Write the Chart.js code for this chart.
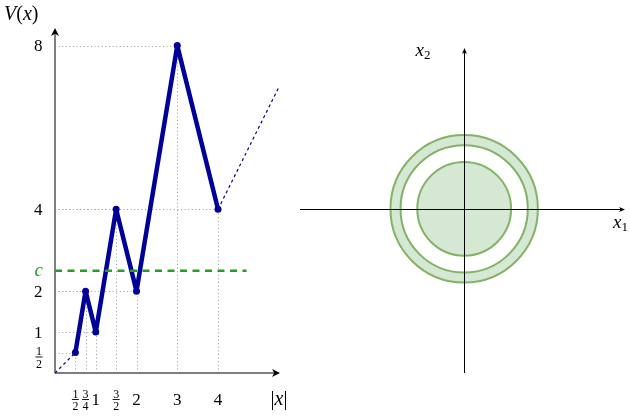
<!DOCTYPE html>
<html>
<head>
<meta charset="utf-8">
<script src="https://cdn.jsdelivr.net/npm/chart.js@4.4.0/dist/chart.umd.min.js"></script>
<style>
  body { margin: 0; background: #fff; font-family: "Liberation Serif", serif; }
  #wrap { position: relative; width: 630px; height: 417px; }
  canvas { position: absolute; top: 0; }
  .probe { position: absolute; left: -999px; top: 0; }
</style>
</head>
<body>
<div id="wrap">
  <canvas id="v_chart" width="300" height="417" style="left:0"></canvas>
  <canvas id="circle_chart" width="330" height="417" style="left:300px"></canvas>
</div>
<span class="probe" style="font-family:'Liberation Serif'">1</span>
<span class="probe" style="font-family:'Liberation Serif';font-style:italic">x</span>
<script>
'use strict';

// V(x) の折れ線
const xs = [0.5, 0.75, 1, 1.5, 2, 3, 4];
const vs = [0.5, 2, 1, 4, 2, 8, 4];
const headX = [0, 0.5];
const headV = [0, 0.5];
const tailX = [4, 5.5];
const tailV = [4, 7];
const cLevel = 2.5;
const cRange = [0, 4.7];
const xTicks = [0.5, 0.75, 1, 1.5, 2, 3, 4];
const xTickLabels = ['1/2', '3/4', '1', '3/2', '2', '3', '4'];
const yTicks = [0.5, 1, 2, 4, 8];
const yTickLabels = ['1/2', '1', '2', '4', '8'];

// 右の図：円の半径
const radii = [1.4, 1.9, 2.2];

const SERIF = '"Liberation Serif", "DejaVu Serif", serif';
const pts = (a, b) => a.map((v, i) => ({ x: v, y: b[i] }));

function arrowHead(ctx, x, y, angle, len, half) {
  ctx.save();
  ctx.translate(x, y);
  ctx.rotate(angle);
  ctx.beginPath();
  ctx.moveTo(0, 0);
  ctx.lineTo(-len, -half);
  ctx.lineTo(-len * 0.72, 0);
  ctx.lineTo(-len, half);
  ctx.closePath();
  ctx.fill();
  ctx.restore();
}

// 分数なら縦に積んで描く
function drawTick(ctx, text, x, base, align) {
  if (text.indexOf('/') < 0) {
    ctx.font = '17px ' + SERIF;
    ctx.textAlign = align;
    ctx.fillText(text, x, base);
    return;
  }
  const [n, d] = text.split('/');
  ctx.font = '12px ' + SERIF;
  const w = 7;
  const cx = align === 'right' ? x - w / 2 : x;
  const bar = base - 5;
  ctx.textAlign = 'center';
  ctx.fillText(n, cx, bar - 2);
  ctx.fillText(d, cx, bar + 10.5);
  ctx.fillRect(cx - w / 2, bar - 0.5, w, 0.9);
}

// 斜体と立体を混ぜて並べる
function drawMath(ctx, parts, x, base, align) {
  let total = 0;
  parts.forEach(p => { ctx.font = p[1]; total += ctx.measureText(p[0]).width; });
  let cur = align === 'center' ? x - total / 2 : x;
  ctx.textAlign = 'left';
  parts.forEach(p => {
    ctx.font = p[1];
    ctx.fillText(p[0], cur, base + (p[2] || 0));
    cur += ctx.measureText(p[0]).width;
  });
}

const vPlugin = {
  id: 'vAxes',
  beforeDatasetsDraw(chart) {
    const { ctx, chartArea: area, scales: { x, y } } = chart;
    const x0 = x.getPixelForValue(0), y0 = y.getPixelForValue(0);
    ctx.save();
    // 点線の補助線
    ctx.strokeStyle = '#9a9a9a';
    ctx.lineWidth = 1;
    ctx.setLineDash([1, 2.6]);
    xs.forEach((xv, i) => {
      const px = Math.round(x.getPixelForValue(xv)) + 0.5;
      const py = Math.round(y.getPixelForValue(vs[i])) + 0.5;
      ctx.beginPath();
      ctx.moveTo(x0, py); ctx.lineTo(px, py);
      ctx.moveTo(px, y0); ctx.lineTo(px, py);
      ctx.stroke();
    });
    ctx.setLineDash([]);
    // 軸
    ctx.strokeStyle = '#7f7f7f';
    ctx.lineWidth = 2;
    ctx.beginPath();
    ctx.moveTo(x0, y0); ctx.lineTo(x0, area.top + 4);
    ctx.moveTo(x0, y0); ctx.lineTo(area.right - 4, y0);
    ctx.stroke();
    ctx.fillStyle = '#000';
    arrowHead(ctx, x0, area.top, -Math.PI / 2, 8, 4);
    arrowHead(ctx, area.right, y0, 0, 8, 4);
    ctx.restore();
  },
  afterDraw(chart) {
    const { ctx, chartArea: area, scales: { x, y } } = chart;
    const x0 = x.getPixelForValue(0), y0 = y.getPixelForValue(0);
    ctx.save();
    ctx.fillStyle = '#000';
    ctx.textBaseline = 'alphabetic';
    xTicks.forEach((v, i) => drawTick(ctx, xTickLabels[i], x.getPixelForValue(v), y0 + 31.5, 'center'));
    yTicks.forEach((v, i) => {
      const lbl = yTickLabels[i];
      const py = y.getPixelForValue(v);
      drawTick(ctx, lbl, x0 - 12.5, lbl.indexOf('/') < 0 ? py + 5.5 : py + 9.5, 'right');
    });
    const it = 'italic 20px ' + SERIF, up = '20px ' + SERIF;
    drawMath(ctx, [['V', it], ['(', up], ['x', it], [')', up]], 4, 20, 'left');
    drawMath(ctx, [['|', up], ['x', it], ['|', up]], area.right - 1, y0 + 31.5, 'center');
    ctx.fillStyle = '#22a022';
    ctx.font = 'italic 19px ' + SERIF;
    ctx.textAlign = 'right';
    ctx.fillText('c', x0 - 12, y.getPixelForValue(cLevel) + 5);
    ctx.restore();
  }
};

const circlePlugin = {
  id: 'circles',
  beforeDatasetsDraw(chart) {
    const { ctx, chartArea: area, scales: { x, y } } = chart;
    const cx = x.getPixelForValue(0), cy = y.getPixelForValue(0);
    const r = radii.map(v => x.getPixelForValue(v) - cx);
    ctx.save();
    ctx.fillStyle = '#d5e8d4';
    ctx.beginPath();
    ctx.arc(cx, cy, r[2], 0, 2 * Math.PI);
    ctx.moveTo(cx + r[1], cy);
    ctx.arc(cx, cy, r[1], 0, 2 * Math.PI);
    ctx.fill('evenodd');
    ctx.beginPath();
    ctx.arc(cx, cy, r[0], 0, 2 * Math.PI);
    ctx.fill();
    ctx.strokeStyle = '#82b366';
    ctx.lineWidth = 2;
    r.forEach(rr => {
      ctx.beginPath();
      ctx.arc(cx, cy, rr, 0, 2 * Math.PI);
      ctx.stroke();
    });
    // 軸
    const ax = Math.round(cx) + 0.5, ay = Math.round(cy) + 0.5;
    ctx.strokeStyle = '#000';
    ctx.lineWidth = 1;
    ctx.beginPath();
    ctx.moveTo(area.left, ay); ctx.lineTo(area.right - 3, ay);
    ctx.moveTo(ax, area.bottom); ctx.lineTo(ax, area.top + 3);
    ctx.stroke();
    ctx.fillStyle = '#000';
    arrowHead(ctx, area.right, ay, 0, 6, 2.5);
    arrowHead(ctx, ax, area.top, -Math.PI / 2, 6, 2.5);
    const it = 'italic 19px ' + SERIF, sub = '13px ' + SERIF;
    drawMath(ctx, [['x', it], ['1', sub, 3]], area.right - 12, ay + 18, 'left');
    drawMath(ctx, [['x', it], ['2', sub, 3]], ax - 49, area.top + 8, 'left');
    ctx.restore();
  }
};

function build() {
  new Chart(document.getElementById('v_chart').getContext('2d'), {
    type: 'scatter',
    data: {
      datasets: [
        {
          data: pts(cRange, [cLevel, cLevel]),
          showLine: true,
          borderColor: '#22a022',
          borderWidth: 2.5,
          borderDash: [7, 5.5],
          pointRadius: 0,
          clip: false
        },
        {
          data: pts(xs, vs),
          showLine: true,
          borderColor: '#000099',
          backgroundColor: '#000099',
          borderWidth: 4.5,
          borderJoinStyle: 'round',
          borderCapStyle: 'round',
          pointRadius: 3.5,
          pointBorderWidth: 0,
          clip: false
        },
        {
          data: pts(headX, headV),
          showLine: true,
          borderColor: '#000099',
          borderWidth: 1.2,
          borderDash: [3, 3],
          pointRadius: 0,
          clip: false
        },
        {
          data: pts(tailX, tailV),
          showLine: true,
          borderColor: '#000099',
          borderWidth: 1.2,
          borderDash: [3, 3],
          pointRadius: 0,
          clip: false
        }
      ]
    },
    options: {
      responsive: false,
      animation: false,
      events: [],
      layout: { padding: { left: 55, right: 20, top: 28, bottom: 44 } },
      plugins: { legend: { display: false }, tooltip: { enabled: false } },
      scales: {
        x: { type: 'linear', min: 0, max: 5.52, display: false },
        y: { type: 'linear', min: 0, max: 8.43, display: false }
      }
    },
    plugins: [vPlugin]
  });

  new Chart(document.getElementById('circle_chart').getContext('2d'), {
    type: 'scatter',
    data: { datasets: [{ data: [], pointRadius: 0 }] },
    options: {
      responsive: false,
      animation: false,
      events: [],
      layout: { padding: { left: 0, right: 5, top: 48, bottom: 44 } },
      plugins: { legend: { display: false }, tooltip: { enabled: false } },
      scales: {
        x: { type: 'linear', min: -4.9, max: 4.8, display: false },
        y: { type: 'linear', min: -4.9, max: 4.8, display: false }
      }
    },
    plugins: [circlePlugin]
  });
}

Promise.all([
  document.fonts.load('17px "Liberation Serif"'),
  document.fonts.load('italic 20px "Liberation Serif"')
]).then(build, build);
</script>
</body>
</html>
